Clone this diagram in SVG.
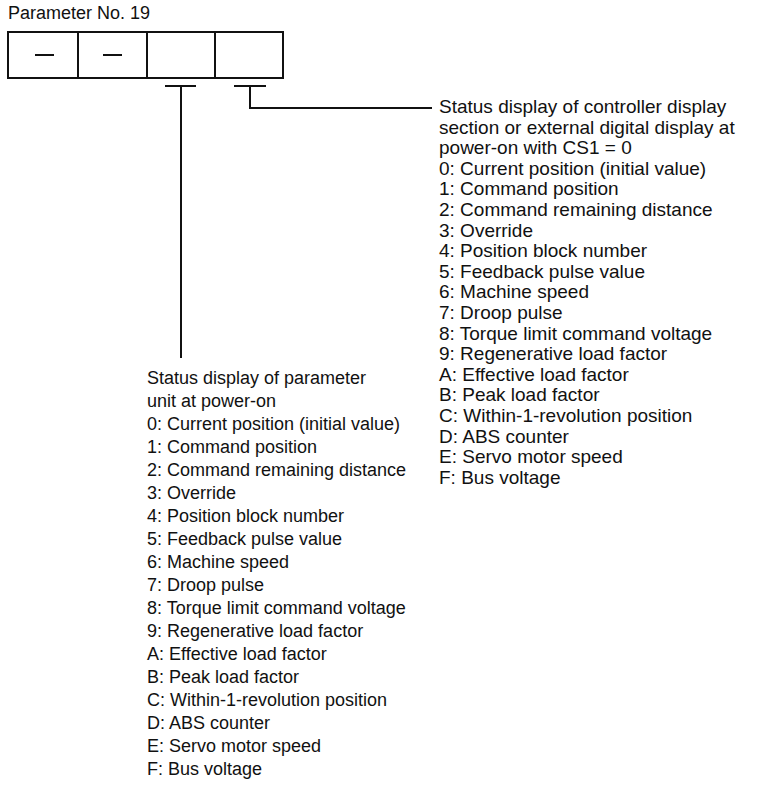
<svg xmlns="http://www.w3.org/2000/svg" width="781" height="789" viewBox="0 0 781 789">
<style>
text{font-family:"Liberation Sans",Arial,Helvetica,sans-serif;font-size:18px;fill:#111}
#right-list text{font-size:19px}
.ln{stroke:#111;stroke-width:2;fill:none}
</style>
<rect width="781" height="789" fill="#fff"/>
<g id="title"><text x="8" y="19">Parameter No. 19</text></g>
<g id="param-box">
<rect class="ln" x="8" y="32" width="275" height="46"/>
<line class="ln" x1="78" y1="32" x2="78" y2="78"/>
<line class="ln" x1="147" y1="32" x2="147" y2="78"/>
<line class="ln" x1="215" y1="32" x2="215" y2="78"/>
<line class="ln" x1="35" y1="55" x2="54" y2="55" stroke-width="2.5"/>
<line class="ln" x1="103" y1="55" x2="122" y2="55" stroke-width="2.5"/>
</g>
<g id="connectors">
<path class="ln" d="M165 86H196M181 86V358"/>
<path class="ln" d="M234 86H266M250 86V108H432"/>
</g>
<g id="right-list">
<text x="439" y="113">Status display of controller display</text>
<text x="439" y="133.6">section or external digital display at</text>
<text x="439" y="154.2">power-on with CS1 = 0</text>
<text x="439" y="174.8">0: Current position (initial value)</text>
<text x="439" y="195.4">1: Command position</text>
<text x="439" y="216">2: Command remaining distance</text>
<text x="439" y="236.6">3: Override</text>
<text x="439" y="257.2">4: Position block number</text>
<text x="439" y="277.8">5: Feedback pulse value</text>
<text x="439" y="298.4">6: Machine speed</text>
<text x="439" y="319">7: Droop pulse</text>
<text x="439" y="339.6">8: Torque limit command voltage</text>
<text x="439" y="360.2">9: Regenerative load factor</text>
<text x="439" y="380.8">A: Effective load factor</text>
<text x="439" y="401.4">B: Peak load factor</text>
<text x="439" y="422">C: Within-1-revolution position</text>
<text x="439" y="442.6">D: ABS counter</text>
<text x="439" y="463.2">E: Servo motor speed</text>
<text x="439" y="483.8">F: Bus voltage</text>
</g>
<g id="left-list">
<text x="147" y="384">Status display of parameter</text>
<text x="147" y="407">unit at power-on</text>
<text x="147" y="430">0: Current position (initial value)</text>
<text x="147" y="453">1: Command position</text>
<text x="147" y="476">2: Command remaining distance</text>
<text x="147" y="499">3: Override</text>
<text x="147" y="522">4: Position block number</text>
<text x="147" y="545">5: Feedback pulse value</text>
<text x="147" y="568">6: Machine speed</text>
<text x="147" y="591">7: Droop pulse</text>
<text x="147" y="614">8: Torque limit command voltage</text>
<text x="147" y="637">9: Regenerative load factor</text>
<text x="147" y="660">A: Effective load factor</text>
<text x="147" y="683">B: Peak load factor</text>
<text x="147" y="706">C: Within-1-revolution position</text>
<text x="147" y="729">D: ABS counter</text>
<text x="147" y="752">E: Servo motor speed</text>
<text x="147" y="775">F: Bus voltage</text>
</g>
</svg>
